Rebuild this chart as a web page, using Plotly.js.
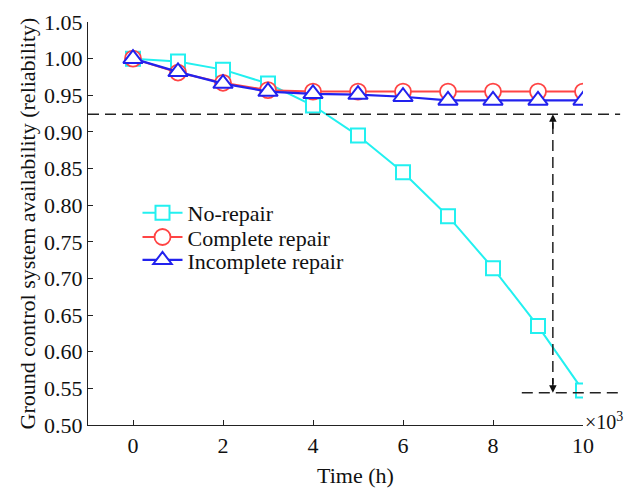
<!DOCTYPE html>
<html><head><meta charset="utf-8">
<script src="https://cdn.plot.ly/plotly-3.0.1.min.js"></script>
<style>html,body{margin:0;padding:0;background:#fff}#c{width:629px;height:488px}</style>
</head><body><div id="c"></div>
<script>
const timeK = [0,1,2,3,4,5,6,7,8,9,10];
const noRepair = [1.000,0.996,0.985,0.966,0.936,0.895,0.845,0.785,0.714,0.635,0.547];
const completeRepair = [1.000,0.981,0.967,0.957,0.955,0.955,0.955,0.955,0.955,0.955,0.955];
const incompleteRepair = [1.000,0.982,0.966,0.955,0.952,0.951,0.948,0.943,0.943,0.943,0.943];
const seriesNames = ['No-repair','Complete repair','Incomplete repair'];
const xTicks = [0,2,4,6,8,10];
const refUpper = 0.924, refLower = 0.544, arrowX = 9.33;

const font = {family:'"Liberation Serif","Times New Roman",serif', color:'#111', size:22};
const dashStyle = {color:'#222',width:1.5,dash:'11px,6px'};
const traces = [
 {x:timeK,y:noRepair,name:seriesNames[0],mode:'lines+markers',legend:'legend',
  line:{color:'#22f0f0',width:2},marker:{symbol:'square',size:14,color:'#fff',line:{color:'#22f0f0',width:2}}},
 {x:timeK,y:completeRepair,name:seriesNames[1],mode:'lines+markers',legend:'legend2',
  line:{color:'#ff4444',width:2},marker:{symbol:'circle',size:16,color:'#fff',line:{color:'#ff4444',width:1.8}}},
 {x:timeK,y:incompleteRepair,name:seriesNames[2],mode:'lines+markers',legend:'legend3',
  line:{color:'#2222ee',width:2.2},marker:{symbol:'triangle-up',size:17,color:'#fff',line:{color:'#2222ee',width:2}}}
];
const leg = (y)=>({x:0.1,y:y,xanchor:'left',yanchor:'middle',bgcolor:'rgba(0,0,0,0)',font:font,itemwidth:40});
const layout = {
 width:629,height:488,margin:{l:88,r:46,t:22,b:63},
 paper_bgcolor:'#fff',plot_bgcolor:'#fff',font:font,showlegend:true,
 legend:leg(0.526),legend2:leg(0.466),legend3:leg(0.409),
 xaxis:{range:[-1,10],tickvals:xTicks,ticks:'inside',ticklen:5,tickcolor:'#222',
  showline:true,linecolor:'#222',linewidth:1.2,showgrid:false,zeroline:false,tickfont:font},
 yaxis:{range:[0.5,1.05],dtick:0.05,tickformat:'.2f',ticks:'inside',ticklen:5,tickcolor:'#222',
  showline:true,linecolor:'#222',linewidth:1.2,showgrid:false,zeroline:false,
  title:{text:'Ground control system availability (reliability)',font:font,standoff:2},tickfont:font},
 shapes:[
  {type:'line',xref:'paper',yref:'y',x0:0,x1:1.075,y0:refUpper,y1:refUpper,line:dashStyle},
  {type:'line',xref:'paper',yref:'y',x0:(8.64+1)/11,x1:1.075,y0:refLower,y1:refLower,line:dashStyle},
  {type:'line',xref:'x',yref:'y',x0:arrowX,x1:arrowX,y0:refUpper-0.012,y1:refLower+0.012,line:dashStyle}
 ],
 annotations:[
  {x:arrowX,y:refUpper,xref:'x',yref:'y',ax:0,ay:16,text:'',showarrow:true,arrowhead:2,arrowsize:1,arrowwidth:1.5,arrowcolor:'#111'},
  {x:arrowX,y:refLower,xref:'x',yref:'y',ax:0,ay:-16,text:'',showarrow:true,arrowhead:2,arrowsize:1,arrowwidth:1.5,arrowcolor:'#111'},
  {x:1.0,y:0.5,xref:'paper',yref:'y',xanchor:'left',yanchor:'middle',yshift:4,showarrow:false,text:'×10<sup>3</sup>',font:{...font,size:20}},
  {x:0.54,y:0,xref:'paper',yref:'paper',xanchor:'center',yanchor:'top',yshift:-36,showarrow:false,text:'Time (h)',font:font}
 ]
};
Plotly.newPlot('c',traces,layout,{displayModeBar:false,staticPlot:true});
</script></body></html>
